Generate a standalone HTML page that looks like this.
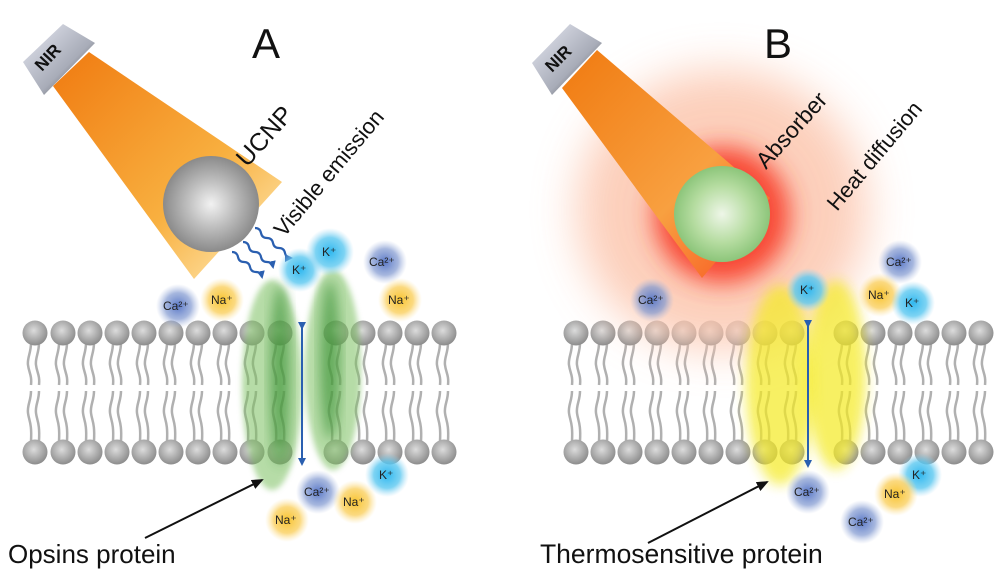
<!DOCTYPE html>
<html><head><meta charset="utf-8"><style>
html,body{margin:0;padding:0;background:#fff;}
svg{display:block}
text{font-family:"Liberation Sans",Arial,sans-serif;}
</style></head><body>
<svg width="1000" height="574" viewBox="0 0 1000 574" xmlns="http://www.w3.org/2000/svg">
<defs>
<radialGradient id="head" cx="0.45" cy="0.4" r="0.6"><stop offset="0" stop-color="#dcdcdc"/><stop offset="1" stop-color="#8c8c8c"/></radialGradient>
<radialGradient id="sph" cx="0.5" cy="0.5" r="0.5"><stop offset="0" stop-color="#f2f2f2"/><stop offset="0.5" stop-color="#bdbdbd"/><stop offset="1" stop-color="#8a8a8a"/></radialGradient>
<radialGradient id="gsph" cx="0.5" cy="0.5" r="0.5"><stop offset="0" stop-color="#eef6e8"/><stop offset="0.6" stop-color="#b5dca0"/><stop offset="1" stop-color="#8cc57a"/></radialGradient>
<linearGradient id="beamA" x1="0" y1="0" x2="1" y2="1"><stop offset="0" stop-color="#f07a10"/><stop offset="0.6" stop-color="#f8b040"/><stop offset="1" stop-color="#fff0c0"/></linearGradient>
<linearGradient id="beamB" x1="0" y1="0" x2="1" y2="1"><stop offset="0" stop-color="#f07a10"/><stop offset="0.6" stop-color="#f8a040"/><stop offset="1" stop-color="#f85020"/></linearGradient>
<linearGradient id="nir" x1="0" y1="0" x2="1" y2="1"><stop offset="0" stop-color="#e8eaf4"/><stop offset="0.6" stop-color="#a8acb8"/><stop offset="1" stop-color="#2a2a2a"/></linearGradient>
<radialGradient id="iK"><stop offset="0" stop-color="#30b8f0"/><stop offset="0.6" stop-color="#5cc8f0" stop-opacity="0.8"/><stop offset="1" stop-color="#9ad8f4" stop-opacity="0"/></radialGradient>
<radialGradient id="iCa"><stop offset="0" stop-color="#5a78c8"/><stop offset="0.6" stop-color="#8098d0" stop-opacity="0.7"/><stop offset="1" stop-color="#a8b8e0" stop-opacity="0"/></radialGradient>
<radialGradient id="iNa"><stop offset="0" stop-color="#f8c430"/><stop offset="0.6" stop-color="#fad060" stop-opacity="0.8"/><stop offset="1" stop-color="#fde4a0" stop-opacity="0"/></radialGradient>
<filter id="blur" x="-30%" y="-30%" width="160%" height="160%"><feGaussianBlur stdDeviation="6"/></filter>
<filter id="blur2" x="-30%" y="-30%" width="160%" height="160%"><feGaussianBlur stdDeviation="3"/></filter>
<filter id="blur3" x="-50%" y="-50%" width="200%" height="200%"><feGaussianBlur stdDeviation="12"/></filter>
<filter id="blur4" x="-50%" y="-50%" width="200%" height="200%"><feGaussianBlur stdDeviation="22"/></filter>
<marker id="ar" markerWidth="8" markerHeight="8" refX="6" refY="4" orient="auto" markerUnits="userSpaceOnUse"><path d="M0,0 L8,4 L0,8 z" fill="#2a5fb0"/></marker>
<marker id="ak" markerWidth="12" markerHeight="10" refX="10" refY="5" orient="auto" markerUnits="userSpaceOnUse"><path d="M0,0 L12,5 L0,10 z" fill="#111"/></marker>
<g id="lip">
<g fill="none" stroke="#b0b0b0" stroke-width="2.5">
<path d="M-4,10 C-4,20 -8,25 -7,32 C-6,40 -3,42 -4,52"/>
<path d="M4,10 C4,20 0,25 1,32 C2,40 5,42 4,52"/>
<path d="M-4,58 C-4,68 -8,72 -7,80 C-6,88 -3,90 -4,108"/>
<path d="M4,58 C4,68 0,72 1,80 C2,88 5,90 4,108"/>
</g>
<circle cx="0" cy="0" r="12.5" fill="url(#head)"/>
<circle cx="0" cy="119" r="12.5" fill="url(#head)"/>
</g>
</defs>

<!-- Panel A -->
<polygon points="53,86 89,52 282,182 194,279" fill="url(#beamA)"/>
<polygon points="23,62 63,24 95,43 44,95" fill="url(#nir)"/>
<text x="0" y="0" font-size="17" font-weight="bold" fill="#111" transform="translate(42,72) rotate(-47)">NIR</text>
<circle cx="211" cy="204" r="48" fill="url(#sph)"/>
<text x="0" y="0" font-size="25" fill="#111" transform="translate(247,168) rotate(-48)">UCNP</text>
<text x="0" y="0" font-size="22" fill="#111" transform="translate(284,238) rotate(-50)">Visible emission</text>
<g fill="none" stroke="#2a5fb0" stroke-width="2.2" marker-end="url(#ar)">
<path d="M232,252 q5,0 6,5 t6,5 t6,5 t6,5 t6,5"/>
<path d="M243,242 q5,0 6,5 t6,5 t6,5 t6,5 t6,5"/>
<path d="M255,228 q5,0 6,5 t6,5 t6,5 t6,5 t6,5 t6,5"/>
</g>
<text x="252" y="58" font-size="42" fill="#111">A</text>

<g>
<use href="#lip" x="35" y="333"/><use href="#lip" x="63" y="333"/><use href="#lip" x="90" y="333"/><use href="#lip" x="117" y="333"/><use href="#lip" x="144" y="333"/><use href="#lip" x="171" y="333"/><use href="#lip" x="198" y="333"/><use href="#lip" x="225" y="333"/><use href="#lip" x="252" y="333"/><use href="#lip" x="280" y="333"/><use href="#lip" x="336" y="333"/><use href="#lip" x="363" y="333"/><use href="#lip" x="390" y="333"/><use href="#lip" x="417" y="333"/><use href="#lip" x="444" y="333"/>
</g>
<ellipse cx="272" cy="385" rx="30" ry="105" fill="#7cc060" opacity="0.55" filter="url(#blur2)"/>
<ellipse cx="280" cy="375" rx="10" ry="90" fill="#2e8a2a" opacity="0.6" filter="url(#blur)"/>
<ellipse cx="333" cy="370" rx="28" ry="100" fill="#7cc060" opacity="0.55" filter="url(#blur2)"/>
<ellipse cx="330" cy="360" rx="10" ry="80" fill="#2e8a2a" opacity="0.6" filter="url(#blur)"/>
<line x1="302" y1="328" x2="302" y2="464" stroke="#2a5fb0" stroke-width="2" marker-end="url(#ar)" marker-start="url(#ar)"/>

<!-- Panel B -->
<g>
<use href="#lip" x="576" y="333"/><use href="#lip" x="603" y="333"/><use href="#lip" x="630" y="333"/><use href="#lip" x="657" y="333"/><use href="#lip" x="684" y="333"/><use href="#lip" x="711" y="333"/><use href="#lip" x="738" y="333"/><use href="#lip" x="765" y="333"/><use href="#lip" x="792" y="333"/><use href="#lip" x="846" y="333"/><use href="#lip" x="873" y="333"/><use href="#lip" x="900" y="333"/><use href="#lip" x="927" y="333"/><use href="#lip" x="954" y="333"/><use href="#lip" x="981" y="333"/>
</g>
<ellipse cx="722" cy="210" rx="145" ry="140" fill="#fcc6ae" opacity="0.85" filter="url(#blur4)"/>
<circle cx="722" cy="215" r="68" fill="#f83a28" opacity="0.9" filter="url(#blur3)"/>
<polygon points="562,88 597,50 770,198 702,278" fill="url(#beamB)"/>
<polygon points="532,63 570,24 602,43 552,95" fill="url(#nir)"/>
<text x="0" y="0" font-size="17" font-weight="bold" fill="#111" transform="translate(552,73) rotate(-45)">NIR</text>
<circle cx="722" cy="214" r="48" fill="url(#gsph)"/>
<text x="0" y="0" font-size="23" fill="#111" transform="translate(766,170) rotate(-48)">Absorber</text>
<text x="0" y="0" font-size="22" fill="#111" transform="translate(837,212) rotate(-50)">Heat diffusion</text>
<text x="764" y="58" font-size="42" fill="#111">B</text>

<ellipse cx="780" cy="385" rx="34" ry="100" fill="#f4ea20" opacity="0.7" filter="url(#blur)"/>
<ellipse cx="836" cy="375" rx="30" ry="95" fill="#f4ea20" opacity="0.7" filter="url(#blur)"/>
<line x1="808" y1="326" x2="808" y2="466" stroke="#2a5fb0" stroke-width="2" marker-end="url(#ar)" marker-start="url(#ar)"/>

<!-- ions -->
<g font-size="12" fill="#222">
<circle cx="300" cy="270" r="22" fill="url(#iK)"/><text x="292" y="274">K⁺</text>
<circle cx="330" cy="252" r="24" fill="url(#iK)"/><text x="322" y="256">K⁺</text>
<circle cx="385" cy="262" r="22" fill="url(#iCa)"/><text x="369" y="266">Ca²⁺</text>
<circle cx="400" cy="300" r="22" fill="url(#iNa)"/><text x="388" y="304">Na⁺</text>
<circle cx="178" cy="306" r="22" fill="url(#iCa)"/><text x="163" y="310">Ca²⁺</text>
<circle cx="222" cy="300" r="22" fill="url(#iNa)"/><text x="211" y="304">Na⁺</text>
<circle cx="387" cy="475" r="22" fill="url(#iK)"/><text x="379" y="479">K⁺</text>
<circle cx="318" cy="492" r="22" fill="url(#iCa)"/><text x="304" y="496">Ca²⁺</text>
<circle cx="355" cy="502" r="22" fill="url(#iNa)"/><text x="343" y="506">Na⁺</text>
<circle cx="287" cy="520" r="22" fill="url(#iNa)"/><text x="275" y="524">Na⁺</text>

<circle cx="808" cy="290" r="22" fill="url(#iK)"/><text x="800" y="294">K⁺</text>
<circle cx="900" cy="262" r="22" fill="url(#iCa)"/><text x="886" y="266">Ca²⁺</text>
<circle cx="880" cy="295" r="22" fill="url(#iNa)"/><text x="868" y="299">Na⁺</text>
<circle cx="913" cy="303" r="22" fill="url(#iK)"/><text x="905" y="307">K⁺</text>
<circle cx="652" cy="300" r="22" fill="url(#iCa)"/><text x="638" y="304">Ca²⁺</text>
<circle cx="808" cy="492" r="22" fill="url(#iCa)"/><text x="794" y="496">Ca²⁺</text>
<circle cx="920" cy="475" r="22" fill="url(#iK)"/><text x="912" y="479">K⁺</text>
<circle cx="896" cy="494" r="22" fill="url(#iNa)"/><text x="884" y="498">Na⁺</text>
<circle cx="862" cy="522" r="22" fill="url(#iCa)"/><text x="848" y="526">Ca²⁺</text>
</g>

<!-- labels -->
<line x1="145" y1="538" x2="262" y2="480" stroke="#111" stroke-width="2" marker-end="url(#ak)"/>
<text x="8" y="563" font-size="26" fill="#111">Opsins protein</text>
<line x1="648" y1="543" x2="767" y2="482" stroke="#111" stroke-width="2" marker-end="url(#ak)"/>
<text x="540" y="563" font-size="26.5" fill="#111">Thermosensitive protein</text>
</svg>
</body></html>
